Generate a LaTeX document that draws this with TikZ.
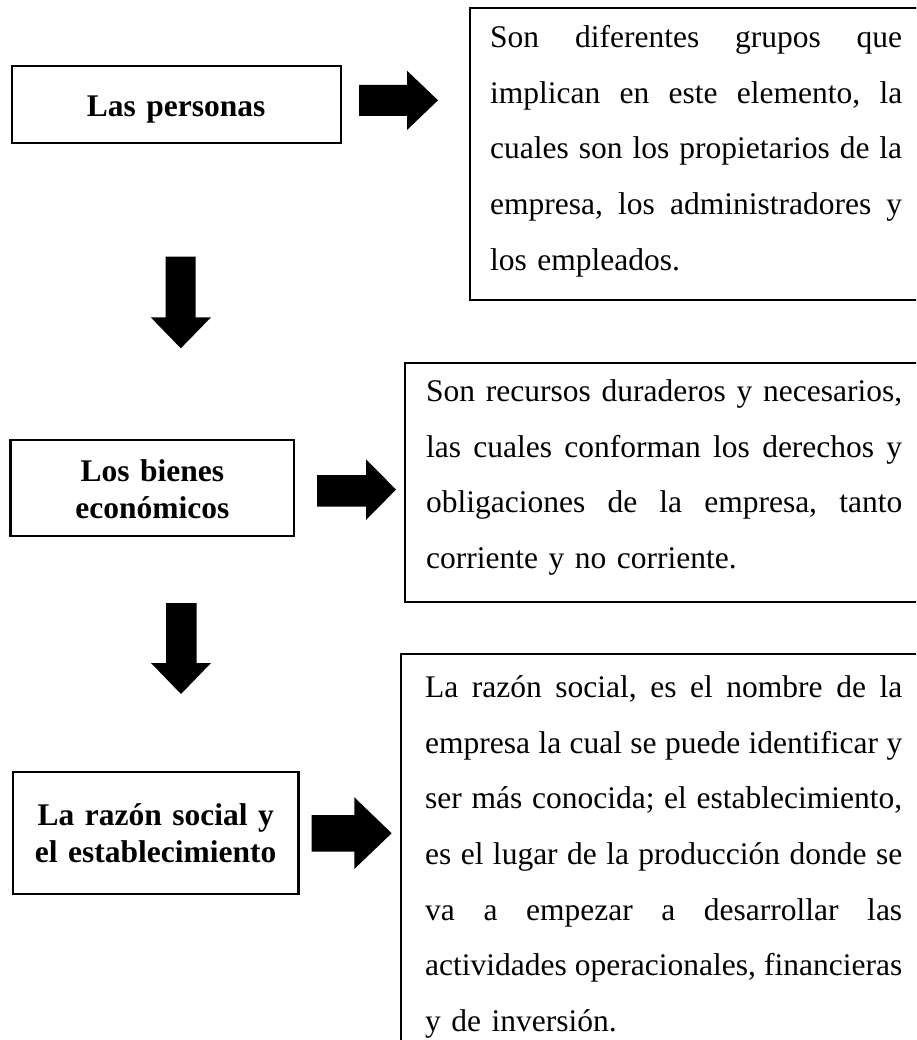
\documentclass[tikz,border=0pt]{standalone}
\usepackage{fontspec}
\setmainfont{Liberation Serif}
\newcommand\g{\hskip 0.25em plus 1fil minus 0.1em\relax}
\newcommand\jl[2]{\leavevmode\hbox to #1{#2}}
\begin{document}
\begin{tikzpicture}[x=1pt,y=-1pt,
  frame/.style={draw=black,line width=2.2pt},
  lbl/.style={inner sep=0pt,anchor=base,text width=280pt,align=center,
    font=\fontsize{31.5}{37}\selectfont\bfseries},
  para/.style={inner sep=0pt,anchor=base west,text width=#1,align=left,
    font=\fontsize{31.5}{55.6}\selectfont},
  blockarrow/.style={fill=black,draw=none}]
\clip (0,0) rectangle (916,1040);
\fill[white] (0,0) rectangle (916,1040);

% left boxes
\draw[frame] (11.7,66) rectangle (340.7,142.7);
\node[lbl] (t1) at (176.2,116.7) {Las personas};
\draw[frame] (10.5,440) rectangle (294,536);
\node[lbl] (t2) at (152.3,481.7) {Los bienes\\económicos};
\draw[frame] (13,772) rectangle (298.5,894);
\node[lbl] (t3) at (155.7,825.7) {La razón social y\\el establecimiento};

% right boxes
\draw[frame] (470,8) rectangle (940,300);
\node[para=412pt] (d1) at (490,47.7) {\jl{412pt}{Son\g diferentes\g grupos\g que}\\
\jl{412pt}{implican\g en\g este\g elemento,\g la}\\
\jl{412pt}{cuales\g son\g los\g propietarios\g de\g la}\\
\jl{412pt}{empresa,\g los\g administradores\g y}\\
los empleados.};

\draw[frame] (405,363) rectangle (940,602);
\node[para=476pt] (d2) at (426,401.7) {\jl{476pt}{Son\g recursos\g duraderos\g y\g necesarios,}\\
\jl{476pt}{las\g cuales\g conforman\g los\g derechos\g y}\\
\jl{476pt}{obligaciones\g de\g la\g empresa,\g tanto}\\
corriente y no corriente.};

\draw[frame] (401,654) rectangle (940,1080);
\node[para=477pt] (d3) at (425,697.7) {\jl{477pt}{La\g razón\g social,\g es\g el\g nombre\g de\g la}\\
\jl{477pt}{empresa\g la\g cual\g se\g puede\g identificar\g y}\\
\jl{477pt}{ser\g más\g conocida;\g el\g establecimiento,}\\
\jl{477pt}{es\g el\g lugar\g de\g la\g producción\g donde\g se}\\
\jl{477pt}{va\g a\g empezar\g a\g desarrollar\g las}\\
\jl{477pt}{actividades\g operacionales,\g financieras}\\
y de inversión.};

% right block arrows
\fill[blockarrow] (359,85) -- (407,85) -- (407,70.7) -- (438,100.3) -- (407,130) -- (407,116) -- (359,116) -- cycle;
\fill[blockarrow] (317,475) -- (366,475) -- (366,459.3) -- (396,489.6) -- (366,520) -- (366,506.7) -- (317,506.7) -- cycle;
\fill[blockarrow] (311.7,815) -- (354.3,815) -- (354.3,797.3) -- (391.7,833.2) -- (354.3,869) -- (354.3,851.7) -- (311.7,851.7) -- cycle;

% down block arrows
\fill[blockarrow] (165.7,256.7) -- (195.7,256.7) -- (195.7,317.3) -- (211,317.3) -- (180.8,348.3) -- (150.7,317.3) -- (165.7,317.3) -- cycle;
\fill[blockarrow] (166,603) -- (196.5,603) -- (196.5,663) -- (211,663) -- (181,694) -- (151,663) -- (166,663) -- cycle;
\end{tikzpicture}
\end{document}
